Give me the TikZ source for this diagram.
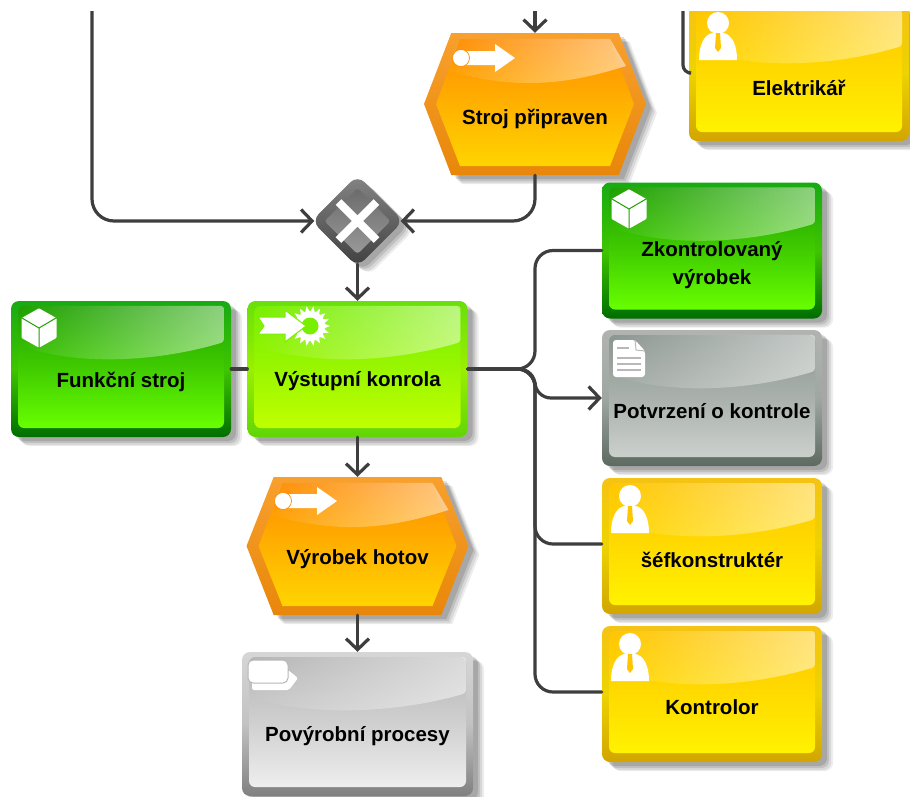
\documentclass[tikz,border=0pt]{standalone}
\usepackage{fontspec}
\setmainfont{Liberation Sans}
\usetikzlibrary{
    arrows.meta,
    calc,
    fadings,
    shadows,
    shapes.geometric,
    shapes.symbols
}
\tikzfading[name=sheenfade, left color=transparent!100, right color=transparent!50]
\tikzset{
    softshadow/.style={
        drop shadow={shadow xshift=11pt, shadow yshift=-9pt, fill=black, opacity=.07},
        drop shadow={shadow xshift=9pt, shadow yshift=-8pt, fill=black, opacity=.09},
        drop shadow={shadow xshift=7pt, shadow yshift=-6pt, fill=black, opacity=.11},
        drop shadow={shadow xshift=5pt, shadow yshift=-4pt, fill=black, opacity=.13}
    },
    boxtext/.style={font=\bfseries\fontsize{20.5}{28}\selectfont, align=center, text=black, inner sep=0pt},
    glossybox/.style n args={4}{
        rectangle, rounded corners=8, inner sep=0pt, softshadow,
        top color=#1, bottom color=#2, middle color=#2!40!#4,
        path picture={
            \coordinate (ppnw) at (path picture bounding box.north west);
            \coordinate (ppne) at (path picture bounding box.north east);
            \coordinate (ppse) at (path picture bounding box.south east);
            \shade[rounded corners=6, top color=#3, bottom color=#4, middle color=#3!55!#4]
                ($(ppnw)+(7,5)$) rectangle ($(ppse)+(-7,-9)$);
            \fill[white, path fading=sheenfade, rounded corners=3]
                ($(ppnw)+(7,5)$) -- ($(ppne)+(-7,5)$) -- ($(ppne)+(-7,41)$)
                .. controls ($(ppne)+(-70,60)$) and ($(ppnw)+(70,66)$) .. ($(ppnw)+(7,44)$) -- cycle;
        }
    },
    funcbox/.style={glossybox={#1}, minimum width=220, minimum height=136},
    eventhex/.style={
        signal, signal to=east and west, signal pointer angle=#1,
        inner sep=0pt, minimum width=222, softshadow,
        top color=orangeedge, bottom color=orangeedgeb,
        path picture={
            \coordinate (ppnw) at (path picture bounding box.north west);
            \coordinate (ppne) at (path picture bounding box.north east);
            \coordinate (ppsw) at (path picture bounding box.south west);
            \coordinate (ppse) at (path picture bounding box.south east);
            \coordinate (ppw) at (path picture bounding box.west);
            \coordinate (ppe) at (path picture bounding box.east);
            \shade[top color=orangetop, bottom color=orangebot, middle color=orangetop!50!orangebot]
                ($(ppw)+(12,0)$) -- ($(ppnw)+(36,6)$) -- ($(ppne)+(-36,6)$) -- ($(ppe)+(-12,0)$)
                -- ($(ppse)+(-36,-9)$) -- ($(ppsw)+(36,-9)$) -- cycle;
            \fill[white, path fading=sheenfade]
                ($(ppnw)+(36,6)$) -- ($(ppne)+(-36,6)$) -- ($(ppne)+(-20,33)$)
                .. controls ($(ppne)+(-80,52)$) and ($(ppnw)+(90,58)$) .. ($(ppnw)+(18,36)$) -- cycle;
        }
    },
    conn/.style={draw=connectgray, line width=3.2, line cap=round},
    flow/.style={conn, -{Straight Barb[length=11,width=23,line width=3.2]}},
    x=1pt, y=-1pt
}
\definecolor{connectgray}{RGB}{62,62,62}
\definecolor{orangeedge}{RGB}{248,160,45}
\definecolor{orangeedgeb}{RGB}{232,135,10}
\definecolor{orangetop}{RGB}{255,140,0}
\definecolor{orangebot}{RGB}{255,212,0}
\definecolor{limeedge}{RGB}{104,224,10}
\definecolor{limeedgeb}{RGB}{96,214,6}
\definecolor{limetop}{RGB}{120,238,0}
\definecolor{limebot}{RGB}{192,255,0}
\definecolor{greenedge}{RGB}{24,170,20}
\definecolor{greenedgeb}{RGB}{0,110,0}
\definecolor{greentop}{RGB}{30,160,0}
\definecolor{greenbot}{RGB}{104,255,0}
\definecolor{docedge}{RGB}{176,180,176}
\definecolor{docedgeb}{RGB}{92,106,96}
\definecolor{doctop}{RGB}{140,150,145}
\definecolor{docbot}{RGB}{204,208,204}
\definecolor{yellowedge}{RGB}{245,195,20}
\definecolor{yellowedgeb}{RGB}{210,165,0}
\definecolor{yellowtop}{RGB}{255,198,0}
\definecolor{yellowbot}{RGB}{255,242,0}
\definecolor{procedge}{RGB}{214,214,214}
\definecolor{procedgeb}{RGB}{128,128,128}
\definecolor{proctop}{RGB}{182,182,182}
\definecolor{procbot}{RGB}{238,238,238}
\newcommand{\cubeicon}[3]{
    \begin{scope}[shift={(#1,#2)}]
        \fill[white, draw=white, line width=3, line join=round]
            (0,-18) -- (16,-9) -- (16,9) -- (0,18) -- (-16,9) -- (-16,-9) -- cycle;
        \draw[#3, line width=1] (0,0) -- (0,20) (0,0) -- (-17,-10) (0,0) -- (17,-10);
    \end{scope}
}
\newcommand{\personicon}[3]{
    \begin{scope}[shift={(#1+28,#2)}]
        \fill[white] (0,18) circle (11);
        \fill[white] (-19,55) .. controls (-19,40) and (-14,30) .. (-6,28) -- (6,28)
            .. controls (14,30) and (19,40) .. (19,55) -- cycle;
        \fill[#3] (-2,28) -- (2,28) -- (3,43) -- (0,47) -- (-3,43) -- cycle;
    \end{scope}
}
\newcommand{\eventicon}[3]{
    \begin{scope}[shift={(#1,#2)}]
        \fill[white] (0,-7) -- (34,-7) -- (34,-14) -- (54,0) -- (34,14) -- (34,7) -- (0,7) -- cycle;
        \fill[white, draw=#3, line width=.7] (0,0) circle (8.5);
    \end{scope}
}
\begin{document}
\begin{tikzpicture}
    \useasboundingbox (0,0) rectangle (910,796);
    \begin{scope}
        \clip (0,11) rectangle (910,796);
        \coordinate (leftstart) at (92,11);
        \coordinate (strojstart) at (535,11);
        \coordinate (elekstart) at (683,11);
        \coordinate (busmid) at (535,369);

        % nodes
        \node[eventhex=138, minimum height=142, label={[boxtext, yshift=-15]center:Stroj připraven}] (stroj) at (535,104) {};
        \node[funcbox={yellowedge}{yellowedgeb}{yellowtop}{yellowbot},
              label={[boxtext, yshift=-15]center:Elektrikář}] (elektrikar) at (799,73) {};
        \node[diamond, rounded corners=10, minimum width=92, minimum height=92, inner sep=0pt, softshadow,
              top color=black!48, bottom color=black!75,
              path picture={
                  \coordinate (ppc) at (path picture bounding box.center);
                  \shade[top color=black!58, bottom color=black!40, rounded corners=3]
                      ($(ppc)+(0,-33)$) -- ($(ppc)+(33,0)$) -- ($(ppc)+(0,33)$) -- ($(ppc)+(-33,0)$) -- cycle;
                  \draw[white, line width=8]
                      ($(ppc)+(-19,-19)$) -- ($(ppc)+(19,19)$)
                      ($(ppc)+(-19,19)$) -- ($(ppc)+(19,-19)$);
              }] (gate) at (357.5,221) {};
        \node[funcbox={greenedge}{greenedgeb}{greentop}{greenbot},
              label={[boxtext, yshift=-13]center:Funkční stroj}] (funkcni) at (121,369) {};
        \node[funcbox={limeedge}{limeedgeb}{limetop}{limebot},
              label={[boxtext, yshift=-12]center:Výstupní konrola}] (vystupni) at (357.5,369) {};
        \node[funcbox={greenedge}{greenedgeb}{greentop}{greenbot},
              label={[boxtext, yshift=-15]center:Zkontrolovaný\\výrobek}] (vyrobek) at (712,250.5) {};
        \node[funcbox={docedge}{docedgeb}{doctop}{docbot},
              label={[boxtext, yshift=-13]center:Potvrzení o kontrole}] (potvrzeni) at (712,398) {};
        \node[funcbox={yellowedge}{yellowedgeb}{yellowtop}{yellowbot},
              label={[boxtext, yshift=-14]center:šéfkonstruktér}] (sef) at (712,546) {};
        \node[funcbox={yellowedge}{yellowedgeb}{yellowtop}{yellowbot},
              label={[boxtext, yshift=-13]center:Kontrolor}] (kontrolor) at (712,694) {};
        \node[eventhex=137, minimum height=138, label={[boxtext, yshift=-13]center:Výrobek hotov}] (hotov) at (357.5,546) {};
        \node[glossybox={procedge}{procedgeb}{proctop}{procbot}, minimum width=231, minimum height=144,
              label={[boxtext, yshift=-12]center:Povýrobní procesy}] (povyrobni) at (357.5,724) {};

        % icons
        \eventicon{461}{58}{orangetop}
        \eventicon{283}{501}{orangetop}
        \cubeicon{39}{328}{greentop}
        \cubeicon{629}{209}{greentop}
        \personicon{690}{5}{yellowtop}
        \personicon{602}{478}{yellowtop}
        \personicon{602}{626}{yellowtop}
        \begin{scope}[shift={(248,301)}]
            % task symbol
            \foreach \a in {0,20,...,340} {
                \fill[white] ($(62,25)+(\a-10:14)$) -- ($(62,25)+(\a:20)$) -- ($(62,25)+(\a+10:14)$) -- cycle;
            }
            \fill[white] (62,25) circle (15);
            \fill[limetop] (62,25) circle (8.5);
            \fill[white, draw=limetop, line width=1]
                (10,16) -- (37,16) -- (37,9) -- (58,25) -- (37,41) -- (37,33) -- (10,33) -- (16,25) -- cycle;
        \end{scope}
        \begin{scope}[shift={(602,330)}]
            % document symbol
            \fill[white, rounded corners=3] (11,10) -- (33,10) -- (43,21) -- (43,47) -- (11,47) -- cycle;
            \draw[black!28, line width=1] (33,10) -- (34,20) -- (43,21);
            \draw[black!28, line width=2] (15,18) -- (27,18) (15,28) -- (39,28) (15,34) -- (39,34) (15,40) -- (39,40);
        \end{scope}
        \begin{scope}[shift={(242,652)}]
            % process symbol
            \fill[white, rounded corners=2] (10,18) -- (46,18) -- (56,26) -- (47,38) -- (10,38) -- cycle;
            \fill[white, draw=proctop, line width=1, rounded corners=5] (6,8) rectangle (46,31);
        \end{scope}

        % connectors
        \draw[conn] (funkcni.east) -- (vystupni.west);
        \draw[flow] (strojstart) -- (stroj.north);
        \draw[conn, rounded corners=8] (elekstart) |- (elektrikar.west);
        \draw[flow, rounded corners=22, shorten >=-3] (leftstart) |- (gate.west);
        \draw[flow, rounded corners=22, shorten >=-3] (stroj.south) |- (gate.east);
        \draw[flow, shorten <=-3] (gate.south) -- (vystupni.north);
        \draw[flow] (vystupni.south) -- (hotov.north);
        \draw[flow] (hotov.south) -- (povyrobni.north);
        \draw[conn, rounded corners=18] (vystupni.east) -- (busmid) |- (vyrobek.west);
        \draw[flow, rounded corners=16] (vystupni.east) -- (busmid) |- (potvrzeni.west);
        \draw[conn, rounded corners=18] (vystupni.east) -- (busmid) |- ([yshift=2]sef.west);
        \draw[conn, rounded corners=18] (vystupni.east) -- (busmid) |- ([yshift=2]kontrolor.west);
    \end{scope}
\end{tikzpicture}
\end{document}
